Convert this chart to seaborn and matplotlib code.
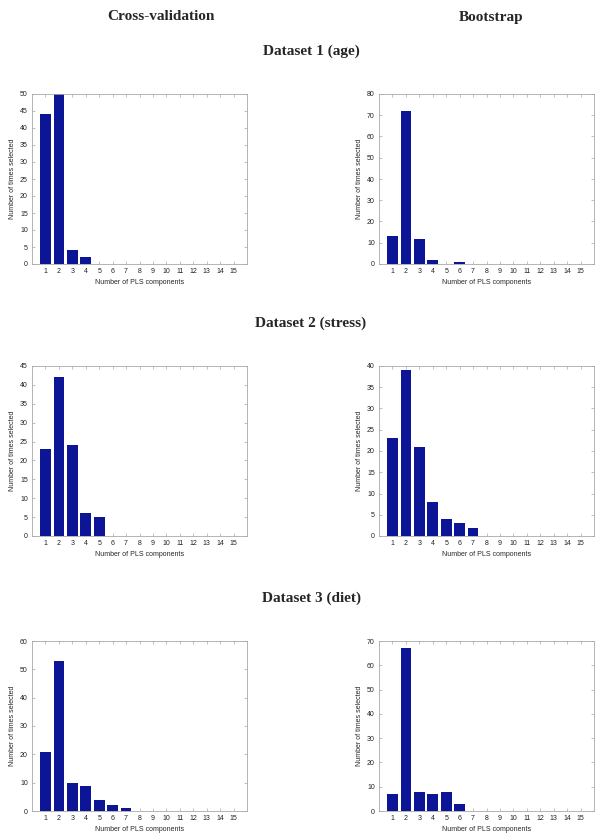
import matplotlib
matplotlib.use("Agg")
import matplotlib.pyplot as plt
import seaborn as sns
import pandas as pd

components = list(range(1, 16))
cv_age      = [44, 50, 4, 2, 0, 0, 0, 0, 0, 0, 0, 0, 0, 0, 0]
bs_age      = [13, 72, 12, 2, 0, 1, 0, 0, 0, 0, 0, 0, 0, 0, 0]
cv_stress   = [23, 42, 24, 6, 5, 0, 0, 0, 0, 0, 0, 0, 0, 0, 0]
bs_stress   = [23, 39, 21, 8, 4, 3, 2, 0, 0, 0, 0, 0, 0, 0, 0]
cv_diet     = [21, 53, 10, 9, 4, 2, 1, 0, 0, 0, 0, 0, 0, 0, 0]
bs_diet     = [7, 67, 8, 7, 8, 3, 0, 0, 0, 0, 0, 0, 0, 0, 0]

col_titles = ["Cross-validation", "Bootstrap"]
row_titles = ["Dataset 1 (age)", "Dataset 2 (stress)", "Dataset 3 (diet)"]
xlabel = "Number of PLS components"
ylabel = "Number of times selected"

panels = [
    (cv_age, 50, 5), (bs_age, 80, 10),
    (cv_stress, 45, 5), (bs_stress, 40, 5),
    (cv_diet, 60, 10), (bs_diet, 70, 10),
]

sns.set_theme(style="white")
plt.rcParams['font.family'] = ['Liberation Sans', 'DejaVu Sans']

W, H = 603, 839
fig = plt.figure(figsize=(W / 100, H / 100), dpi=100)

lefts = [32, 379]
tops = [94, 366, 641]
aw, ah = 215, 170
bar_color = "#0b1595"
spine_col = "#a8a8a8"

for i, (vals, ymax, ystep) in enumerate(panels):
    r, c = divmod(i, 2)
    x0 = lefts[c] / W
    y0 = 1 - (tops[r] + ah) / H
    ax = fig.add_axes([x0, y0, aw / W, ah / H])
    df = pd.DataFrame({"comp": components, "count": vals})
    sns.barplot(data=df, x="comp", y="count", order=components, color=bar_color,
                saturation=1, width=0.8, ax=ax, edgecolor="none")
    ax.set_xlim(-1, 15)
    ax.set_ylim(0, ymax)
    ax.set_yticks(list(range(0, ymax + 1, ystep)))
    ax.set_xticks(list(range(0, 15)))
    ax.set_xticklabels([str(k) for k in components])
    ax.set_xlabel(xlabel, fontsize=5, labelpad=3)
    ax.set_ylabel(ylabel, fontsize=5, labelpad=3)
    ax.tick_params(axis="both", which="both", direction="in", length=2.5, width=0.5,
                   color=spine_col, labelsize=5, labelcolor="#222222",
                   top=True, right=True, bottom=True, left=True, pad=3)
    for s in ax.spines.values():
        s.set_visible(True)
        s.set_color(spine_col)
        s.set_linewidth(0.6)

serif = ['Liberation Serif', 'DejaVu Serif']
fig.text(161 / W, 1 - 17 / H, col_titles[0], ha="center", va="center",
         fontsize=11, fontweight="bold", family=serif)
fig.text(491 / W, 1 - 17 / H, col_titles[1], ha="center", va="center",
         fontsize=11, fontweight="bold", family=serif)
for r, t in enumerate(row_titles):
    fig.text(311 / W, 1 - (tops[r] - 43) / H, t, ha="center", va="center",
             fontsize=11, fontweight="bold", family=serif)

fig.savefig("out.png", dpi=100)
